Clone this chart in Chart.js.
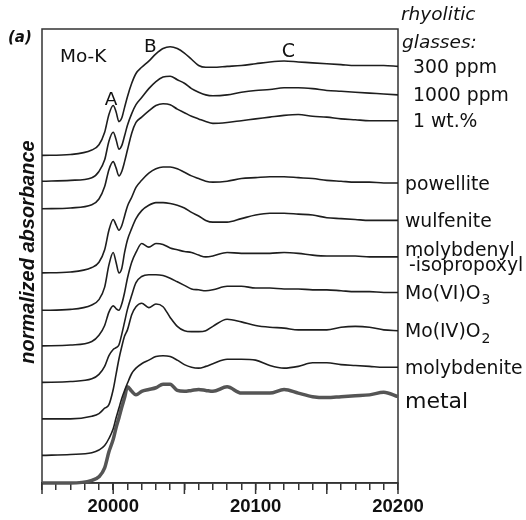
<!DOCTYPE html>
<html>
<head>
<meta charset="utf-8">
<script src="https://cdn.jsdelivr.net/npm/chart.js@4.4.1/dist/chart.umd.min.js"></script>
<style>
html,body{margin:0;padding:0;background:#fff;}
#caja{width:526px;height:520px;}
</style>
</head>
<body>
<div id="caja"><canvas id="miGrafica" width="526" height="520"></canvas></div>
<script>
// energia (eV), rejilla comun para todos los espectros
const energia = [19950,19970,19985,19990,19994,19997,20000,20002,20004,20006,20008,20010,20013,20016,20020,20025,20030,20035,20040,20045,20050,20055,20060,20065,20070,20080,20090,20100,20110,20120,20130,20140,20150,20160,20170,20180,20190,20200];

// absorbancia normalizada de cada muestra
const vidrio300 = [0,0.01,0.06,0.12,0.26,0.46,0.56,0.49,0.38,0.42,0.54,0.66,0.81,0.92,0.99,1.06,1.14,1.20,1.22,1.20,1.15,1.08,1.01,0.99,0.99,1.00,1.01,1.03,1.05,1.06,1.05,1.04,1.03,1.02,1.01,1.01,1.01,1.00];
const vidrio1000 = [0,0.01,0.04,0.11,0.24,0.45,0.55,0.47,0.36,0.40,0.51,0.63,0.76,0.86,0.94,1.04,1.12,1.17,1.18,1.14,1.10,1.04,1.00,0.97,0.96,0.97,1.00,1.02,1.03,1.05,1.05,1.04,1.02,1.01,1.00,0.99,0.98,0.97];
const vidrio1wt = [0,0.01,0.045,0.11,0.25,0.44,0.53,0.46,0.37,0.42,0.53,0.66,0.85,0.97,1.03,1.10,1.16,1.18,1.17,1.12,1.08,1.04,1.01,0.98,0.96,0.97,0.99,1.01,1.03,1.05,1.06,1.04,1.03,1.01,1.00,0.99,0.99,0.99];
const powellita = [0,0.01,0.06,0.12,0.26,0.48,0.60,0.54,0.48,0.53,0.64,0.75,0.85,0.96,1.04,1.12,1.17,1.19,1.19,1.17,1.13,1.09,1.06,1.03,1.02,1.03,1.06,1.07,1.08,1.08,1.07,1.06,1.04,1.03,1.02,1.02,1.01,1.01];
const wulfenita = [0,0.01,0.06,0.12,0.26,0.51,0.65,0.54,0.42,0.47,0.65,0.79,0.92,1.03,1.12,1.18,1.21,1.21,1.20,1.18,1.15,1.10,1.06,1.01,0.99,0.99,1.03,1.07,1.09,1.09,1.08,1.07,1.04,1.03,1.02,1.01,1.01,1.01];
const molibdenilo = [0,0.01,0.05,0.12,0.23,0.38,0.45,0.42,0.40,0.47,0.60,0.76,0.94,1.05,1.15,1.11,1.15,1.14,1.10,1.08,1.06,1.05,1.02,1.00,1.01,1.05,1.04,1.04,1.04,1.05,1.04,1.02,1.01,1.01,1.01,1.00,1.00,1.00];
const moo3 = [0,0.01,0.04,0.09,0.18,0.30,0.37,0.39,0.42,0.54,0.68,0.82,0.98,1.12,1.19,1.21,1.21,1.20,1.17,1.13,1.09,1.05,1.04,1.03,1.04,1.08,1.08,1.06,1.06,1.05,1.05,1.04,1.04,1.03,1.02,1.02,1.01,1.01];
const moo2 = [0,0,0.03,0.06,0.12,0.16,0.33,0.50,0.67,0.81,0.93,1.00,1.17,1.26,1.30,1.25,1.29,1.26,1.14,1.04,0.99,0.98,0.98,0.99,1.04,1.12,1.09,1.05,1.03,1.02,1.00,1.00,1.00,1.03,1.04,1.03,1.00,0.99];
const molibdenita = [0,0.01,0.03,0.06,0.11,0.19,0.30,0.42,0.53,0.64,0.73,0.81,0.92,0.98,1.03,1.07,1.11,1.12,1.11,1.07,1.02,0.99,0.98,1.00,1.03,1.08,1.08,1.07,1.01,0.98,1.00,1.04,1.04,1.02,1.01,1.00,0.99,0.99];
const metal = [0,0,0.03,0.07,0.17,0.35,0.49,0.62,0.73,0.85,0.96,1.08,1.03,0.99,1.03,1.05,1.07,1.11,1.11,1.04,1.03,1.04,1.05,1.04,1.03,1.08,1.01,1.01,1.01,1.05,1.01,0.97,0.96,0.97,0.98,0.99,1.02,0.97];

const espectros = [vidrio300,vidrio1000,vidrio1wt,powellita,wulfenita,molibdenilo,moo3,moo2,molibdenita,metal];
const nombres = ['300 ppm','1000 ppm','1 wt.%','powellite','wulfenite','molybdenyl','Mo(VI)O','Mo(IV)O','molybdenite','metal'];
const subindices = ['','','','','','','3','2','',''];
// desplazamiento vertical de cada curva
const desplaz = [3.68,3.39,3.08,2.36,1.94,1.54,1.13,0.72,0.31,0];
// marcas del eje x con numero
const etiquetasX = [20000,20100,20200];

const datasets = espectros.map((serie, i) => ({
  label: nombres[i],
  data: energia.map((e, k) => ({x: e, y: serie[k] + desplaz[i]})),
  borderColor: i === 9 ? '#555' : '#1e1e1e',
  borderWidth: i === 9 ? 3.5 : 1.6,
  pointRadius: 0,
  cubicInterpolationMode: 'monotone',
  clip: 5
}));

const textos = {
  id: 'textos',
  beforeDatasetsDraw(chart) {
    const {ctx, chartArea: a} = chart;
    ctx.save();
    ctx.strokeStyle = '#333';
    ctx.lineWidth = 1.5;
    ctx.strokeRect(a.left, a.top, a.right - a.left, a.bottom - a.top);
    ctx.restore();
  },
  afterDraw(chart) {
    const {ctx, chartArea: a, scales} = chart;
    const x = scales.x, y = scales.y;
    ctx.save();
    // marcas largas cada 50 eV
    ctx.strokeStyle = '#333';
    ctx.lineWidth = 1.5;
    x.ticks.forEach(t => {
      if (t.value % 50 === 0) {
        const px = x.getPixelForValue(t.value);
        ctx.beginPath();
        ctx.moveTo(px, a.bottom);
        ctx.lineTo(px, a.bottom + 11);
        ctx.stroke();
      }
    });

    ctx.fillStyle = '#111';
    ctx.textBaseline = 'alphabetic';
    ctx.textAlign = 'left';

    // titulo del eje y
    ctx.save();
    ctx.translate(a.left - 8.5, 252);
    ctx.rotate(-Math.PI / 2);
    ctx.textAlign = 'center';
    ctx.font = 'italic bold 20px "Liberation Sans"';
    ctx.fillText('normalized absorbance', 0, 0);
    ctx.restore();

    ctx.font = 'italic bold 15px "DejaVu Sans"';
    ctx.fillText('(a)', 8, 42);
    ctx.font = '18.5px "DejaVu Sans"';
    ctx.fillText('Mo-K', 60, 62);
    ctx.textAlign = 'center';
    ctx.fillText('A', x.getPixelForValue(19998.5), 105);
    ctx.fillText('B', x.getPixelForValue(20026), 52);
    ctx.font = '19px "DejaVu Sans"';
    ctx.fillText('C', x.getPixelForValue(20123), 57);

    // nombres a la derecha
    ctx.textAlign = 'left';
    ctx.font = 'italic 18.5px "DejaVu Sans"';
    ctx.fillText('rhyolitic', a.right + 3, 20);
    ctx.fillText('glasses:', a.right + 4, 48);
    espectros.forEach((serie, i) => {
      const yFin = y.getPixelForValue(serie[serie.length - 1] + desplaz[i]);
      const xt = i < 3 ? a.right + 15 : a.right + 7;
      if (i === 9) {
        ctx.font = '22px "DejaVu Sans"';
        ctx.fillText(nombres[i], xt, yFin + 11);
        return;
      }
      ctx.font = '18.8px "DejaVu Sans"';
      if (i === 5) {
        ctx.fillText(nombres[i], xt, yFin - 1);
        ctx.fillText('-isopropoxyl', xt + 4, yFin + 14);
        return;
      }
      ctx.fillText(nombres[i], xt, yFin + 6.5);
      if (subindices[i]) {
        const w = ctx.measureText(nombres[i]).width;
        ctx.font = '14px "DejaVu Sans"';
        ctx.fillText(subindices[i], xt + w + 1, yFin + 12);
      }
    });
    ctx.restore();
  }
};

const grafica = new Chart(document.getElementById('miGrafica').getContext('2d'), {
  type: 'line',
  data: {datasets: datasets},
  plugins: [textos],
  options: {
    responsive: false,
    animation: false,
    devicePixelRatio: 1,
    layout: {padding: {left: 42, right: 128, top: 29, bottom: 0}},
    plugins: {legend: {display: false}, tooltip: {enabled: false}},
    scales: {
      x: {
        type: 'linear',
        min: 19950,
        max: 20200,
        afterFit: s => { s.height = 37; },
        border: {display: true, color: '#333', width: 1.5},
        grid: {display: true, drawOnChartArea: false, drawTicks: true, tickLength: 7, color: '#333', lineWidth: 1.5},
        ticks: {
          stepSize: 10,
          autoSkip: false,
          maxRotation: 0,
          padding: 6,
          color: '#111',
          font: {family: 'Liberation Sans', size: 18.5, weight: 'bold'},
          callback: v => etiquetasX.includes(v) ? String(v) : ''
        }
      },
      y: {
        display: false,
        min: 0,
        max: 5.1
      }
    }
  }
});
</script>
</body>
</html>
